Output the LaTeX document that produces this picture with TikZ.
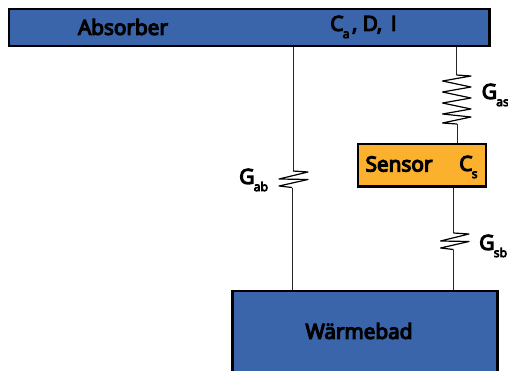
\documentclass[tikz,border=0pt]{standalone}
\usepackage{fontspec}
\setmainfont{Open Sans}[RawFeature={embolden=6}]
\tikzset{
  x=0.75pt,y=-0.75pt,
  block/.style={draw=black,line width=1.9pt,rectangle,inner sep=0pt,anchor=north west},
  blue block/.style={block,fill=blockblue},
  orange block/.style={block,fill=blockorange},
  txt/.style={inner sep=0pt,font=\fontsize{15.6}{17}\selectfont,text=black},
  glabel/.style={inner sep=0pt,font=\fontsize{15.6}{17}\selectfont,text=black},
  wire/.style={draw=black!85,line width=0.75pt},
  zig/.style={draw=black,line width=0.9pt,line join=round},
}
\definecolor{blockblue}{HTML}{3A65AB}
\definecolor{blockorange}{HTML}{FBB02E}
\newcommand{\subs}[1]{\hspace{-0.5pt}\raisebox{-0.65ex}{\fontsize{9.2}{10}\selectfont #1}}
\begin{document}
\begin{tikzpicture}
\useasboundingbox (0,0) rectangle (508,371);
\node[blue block,minimum width=360.5pt,minimum height=27.7pt] (absorber) at (7.7,7.7) {};
\node[orange block,minimum width=96pt,minimum height=32pt] (sensor) at (356.7,142.7) {};
\node[blue block,minimum width=198.7pt,minimum height=75pt] (bath) at (231.2,289.7) {};

\node[txt] (abslabel) at (123,27) {Absorber};
\node[txt,anchor=west] (abspar) at (330,27) {C\subs{a}\hspace{2pt}, D,\hspace{2.5pt} I};
\node[txt] (senslabel) at (399,164) {Sensor};
\node[txt,anchor=west] (csl) at (459,167) {C\subs{s}};
\node[txt] (bathlabel) at (359,331) {Wärmebad};
\node[glabel,anchor=west] (gas) at (481.5,95) {G\subs{as}};
\node[glabel,anchor=west] (gab) at (239,180) {G\subs{ab}};
\node[glabel,anchor=west] (gsb) at (479,246) {G\subs{sb}};

% G_ab
\coordinate (abT) at (293,171);
\coordinate (abB) at (292,187.5);
\draw[wire] (absorber.south -| abT) -- (abT);
\draw[zig] (abT) -- (308,172) -- (279,179) -- (308,179.5) -- (279,186) -- (abB);
\draw[wire] (abB) -- (bath.north -| abB);

% G_as
\coordinate (asT) at (456.5,75);
\coordinate (asB) at (457,124);
\draw[wire] (absorber.south -| asT) -- (asT);
\draw[zig] (asT) -- (471,76) -- (442.5,81) -- (471,87) -- (442.5,92) -- (471,98) -- (442.5,103) -- (471,109) -- (442.5,114) -- (471,117) -- (442.5,123) -- (asB);
\draw[wire] (asB) -- (sensor.north -| asB);

% G_sb
\coordinate (sbT) at (453.5,233);
\coordinate (sbB) at (453.5,249.5);
\draw[wire] (sensor.south -| sbT) -- (sbT);
\draw[zig] (sbT) -- (469,234) -- (440.5,241) -- (469,241.5) -- (440.5,248) -- (sbB);
\draw[wire] (sbB) -- (bath.north -| sbB);
\end{tikzpicture}
\end{document}
